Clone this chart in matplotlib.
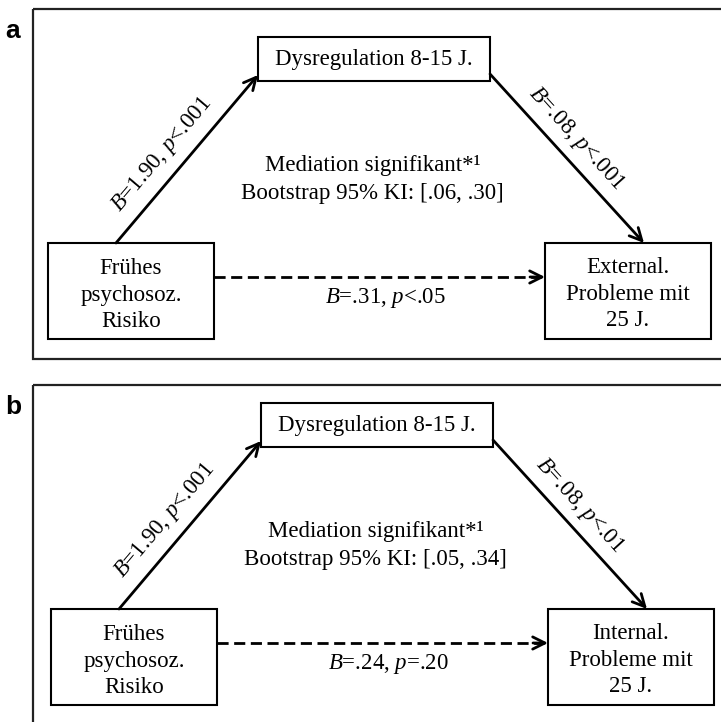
import matplotlib
matplotlib.use("Agg")
import matplotlib.pyplot as plt
from matplotlib.patches import Rectangle

plt.rcParams['mathtext.fontset'] = 'custom'
plt.rcParams['mathtext.rm'] = 'Liberation Serif'
plt.rcParams['mathtext.it'] = 'Liberation Serif:italic'

# ---- data ----
panel_labels = ['a', 'b']
mediator = 'Dysregulation 8-15 J.'
predictor = 'Frühes\npsychosoz.\nRisiko'
outcomes = ['External.\nProbleme mit\n25 J.', 'Internal.\nProbleme mit\n25 J.']
a_B = [1.90, 1.90]
a_p = ['<.001', '<.001']
b_B = [0.08, 0.08]
b_p = ['<.001', '<.01']
c_B = [0.31, 0.24]
c_p = ['<.05', '=.20']
ci_low = [0.06, 0.05]
ci_high = [0.30, 0.34]


def fmt(v):
    s = f"{v:.2f}"
    return s[1:] if s.startswith('0') else s


def coef(B, p):
    return r"$\mathit{B}$=" + fmt(B) + r", $\mathit{p}$" + p


W, H = 721, 722
fig = plt.figure(figsize=(W / 100, H / 100), dpi=100)
ax = fig.add_axes([0, 0, 1, 1])
ax.set_xlim(0, W)
ax.set_ylim(H, 0)
ax.axis('off')

serif = 'Liberation Serif'
fs = 16.5

for i in range(2):
    dx = 3 * i
    dy = 366 * i
    fdy = 376 * i
    # frame
    ax.add_patch(Rectangle((33, 9 + fdy), 760, 350, fill=False, lw=1.6,
                           edgecolor='#222222', clip_on=True))
    ax.text(13, 31 + fdy, panel_labels[i], fontsize=19, fontweight='bold',
            family='Liberation Sans', ha='center', va='center')
    # boxes
    for (x0, y0, x1, y1) in [(258, 37, 490, 81), (48, 243, 214, 339), (545, 243, 711, 339)]:
        ax.add_patch(Rectangle((x0 + dx, y0 + dy), x1 - x0, y1 - y0, fill=False,
                               lw=1.5, edgecolor='black'))
    ax.text(374 + dx, 60 + dy, mediator, family=serif, fontsize=fs, ha='center', va='center')
    ax.text(131 + dx, 295 + dy, predictor, family=serif, fontsize=fs, ha='center',
            va='center', linespacing=1.32)
    ax.text(628 + dx, 294 + dy, outcomes[i], family=serif, fontsize=fs, ha='center',
            va='center', linespacing=1.32)
    # arrows
    ap = dict(arrowstyle='->', lw=2.0, color='black', mutation_scale=22,
              shrinkA=0, shrinkB=0)
    ax.annotate('', xy=(258 + dx, 75 + dy), xytext=(116 + dx, 243 + dy), arrowprops=ap)
    ax.annotate('', xy=(644 + dx, 243 + dy), xytext=(490 + dx, 74 + dy), arrowprops=ap)
    ax.plot([214 + dx, 541 + dx], [277 + dy, 277 + dy], color='black', lw=2.0,
            dashes=(4, 2))
    ax.annotate('', xy=(545 + dx, 277 + dy), xytext=(530 + dx, 277 + dy), arrowprops=ap)
    # labels
    ax.text(162 + dx, 155 + dy, coef(a_B[i], a_p[i]), family=serif, fontsize=fs,
            rotation=49.8, ha='center', va='center', rotation_mode='anchor')
    ax.text(576 + dx, 139 + dy, coef(b_B[i], b_p[i]), family=serif, fontsize=fs,
            rotation=-47.7, ha='center', va='center', rotation_mode='anchor')
    ax.text(385 + dx, 298 + dy, coef(c_B[i], c_p[i]), family=serif, fontsize=fs,
            ha='center', va='center')
    ax.text(373 + dx, 165 + dy, 'Mediation signifikant*¹', family=serif, fontsize=fs,
            ha='center', va='center')
    ax.text(372 + dx, 193 + dy,
            f'Bootstrap 95% KI: [{fmt(ci_low[i])}, {fmt(ci_high[i])}]',
            family=serif, fontsize=fs, ha='center', va='center')

fig.savefig('out.png', dpi=100, facecolor='white')
